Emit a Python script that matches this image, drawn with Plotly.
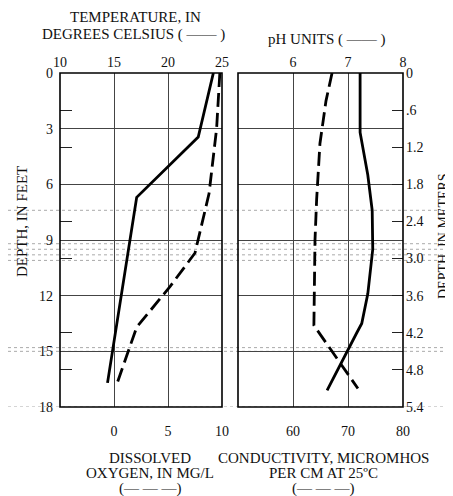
import plotly.graph_objects as go

# ---- data (depth in feet) ----
temp_depth = [0, 3.45, 6.7, 16.7]
temp_c = [24.2, 22.8, 17.1, 14.4]

do_depth = [0, 3.0, 6.5, 9.7, 11.5, 13.7, 16.7]
do_mgl = [9.8, 9.5, 8.8, 7.5, 5.2, 2.1, 0.3]

ph_depth = [0, 1.5, 3.8, 6.8, 9.0, 11.0, 13.6, 17.0]
ph_units = [6.71, 6.6, 6.49, 6.43, 6.4, 6.39, 6.38, 7.18]

cond_depth = [0, 3.2, 5.5, 7.4, 9.5, 11.9, 13.5, 14.0, 17.1]
cond_us = [72.2, 72.2, 73.6, 74.4, 74.5, 73.6, 72.5, 71.6, 66.2]

ft_ticks = [0, 3, 6, 9, 12, 15, 18]
ft_minor = [2, 4, 8, 10, 14, 16]
m_ticks = [0, 0.6, 1.2, 1.8, 2.4, 3.0, 3.6, 4.2, 4.8, 5.4]
m_labels = ["0", ".6", "1.2", "1.8", "2.4", "3.0", "3.6", "4.2", "4.8", "5.4"]
temp_ticks = [10, 15, 20, 25]
do_ticks = [0, 5, 10]
ph_ticks = [6, 7, 8]
cond_ticks = [60, 70, 80]
scan_lines_ft = [7.4, 9.2, 9.5, 9.8, 10.1, 14.8, 15.0, 18.0]

# page body has an 8px margin: draw figure 8px smaller and offset coordinates
OFF = 8
W, H = 453 - OFF, 496 - OFF
FONT = "Liberation Serif"

def px(x):
    return (x - OFF) / W

def py(y):
    return 1 - (y - OFF) / H

xl = [px(60), px(222)]
xr = [px(238), px(403)]
yd = [py(407), py(73)]

fig = go.Figure()
fig.add_trace(go.Scatter(x=temp_c, y=temp_depth, xaxis="x2", yaxis="y", mode="lines",
                         line=dict(color="black", width=2.8), showlegend=False))
fig.add_trace(go.Scatter(x=do_mgl, y=do_depth, xaxis="x", yaxis="y", mode="lines",
                         line=dict(color="black", width=2.8, dash="14px,6px"), showlegend=False))
fig.add_trace(go.Scatter(x=ph_units, y=ph_depth, xaxis="x4", yaxis="y2", mode="lines",
                         line=dict(color="black", width=2.8, dash="14px,6px"), showlegend=False))
fig.add_trace(go.Scatter(x=cond_us, y=cond_depth, xaxis="x3", yaxis="y2", mode="lines",
                         line=dict(color="black", width=2.8), showlegend=False))
# meters axis carrier (no visible marks)
fig.add_trace(go.Scatter(x=[None], y=[None], xaxis="x3", yaxis="y3", mode="markers",
                         showlegend=False, hoverinfo="skip"))

font = dict(family=FONT, size=14, color="#111")
cap = dict(family=FONT, size=15, color="#111")
grid = dict(gridcolor="#444", gridwidth=1)

fig.update_layout(
    width=W, height=H, margin=dict(l=0, r=0, t=0, b=0, autoexpand=False),
    paper_bgcolor="white", plot_bgcolor="white", font=font,
    xaxis=dict(domain=xl, range=[-5, 10], anchor="y", side="bottom", tickvals=do_ticks,
               showgrid=False, zeroline=False, ticks="", ticklabelstandoff=14, tickfont=font,
               automargin=False),
    xaxis2=dict(domain=xl, range=[10, 25], anchor="y", overlaying="x", side="top",
                tickvals=temp_ticks, showgrid=True, **grid, zeroline=False, ticks="",
                ticklabelstandoff=2, tickfont=font, automargin=False),
    xaxis3=dict(domain=xr, range=[50, 80], anchor="y2", side="bottom", tickvals=cond_ticks,
                showgrid=False, zeroline=False, ticks="", ticklabelstandoff=14, tickfont=font,
                automargin=False),
    xaxis4=dict(domain=xr, range=[5, 8], anchor="y2", overlaying="x3", side="top",
                tickvals=ph_ticks, showgrid=True, **grid, zeroline=False, ticks="",
                ticklabelstandoff=2, tickfont=font, automargin=False),
    yaxis=dict(domain=yd, range=[18, 0], anchor="x", tickvals=ft_ticks, showgrid=True, **grid,
               zeroline=False, ticks="", ticklabelstandoff=6, tickfont=font, automargin=False,
               minor=dict(tickvals=ft_minor, ticks="inside", ticklen=12, tickcolor="#222",
                          tickwidth=1, showgrid=False)),
    yaxis2=dict(domain=yd, range=[18, 0], anchor="x3", matches="y", tickvals=ft_ticks,
                showgrid=True, **grid, zeroline=False, showticklabels=False, ticks="",
                automargin=False),
    yaxis3=dict(domain=yd, range=[5.4, 0], anchor="x3", overlaying="y2", side="right",
                tickvals=m_ticks, ticktext=m_labels, showgrid=False, zeroline=False,
                ticks="inside", ticklen=11, tickcolor="#222", ticklabelstandoff=2, tickfont=font,
                showticklabels=True, automargin=False),
)

shapes = []
for x0, x1 in (xl, xr):
    shapes.append(dict(type="rect", xref="paper", yref="paper", x0=x0, x1=x1, y0=yd[0], y1=yd[1],
                       line=dict(color="black", width=1.6)))
for d in scan_lines_ft:
    shapes.append(dict(type="line", xref="paper", yref="y", x0=0, x1=1, y0=d, y1=d,
                       line=dict(color="#aaa", width=1, dash="dot"), layer="below"))
fig.update_layout(shapes=shapes)

ann = [
    ("TEMPERATURE, IN", 135, 17, 0, cap),
    ("DEGREES CELSIUS ( —— )", 133, 34, 0, cap),
    ("pH UNITS ( —— )", 327, 40, 0, cap),
    ("DEPTH, IN FEET", 22, 222, -90, cap),
    ("DEPTH, IN METERS", 444, 236, -90, font),
    ("DISSOLVED", 150, 458, 0, cap),
    ("OXYGEN, IN MG/L", 150, 473, 0, cap),
    ("(— — —)", 150, 488, 0, cap),
    ("CONDUCTIVITY, MICROMHOS", 323, 458, 0, cap),
    ("PER CM AT 25ºC", 323, 473, 0, cap),
    ("(— — —)", 323, 488, 0, cap),
]
for t, x, y, a, f in ann:
    fig.add_annotation(text=t, x=px(x), y=py(y), xref="paper", yref="paper", showarrow=False,
                       textangle=a, font=f, xanchor="center", yanchor="middle")

fig.write_html("out.html")
